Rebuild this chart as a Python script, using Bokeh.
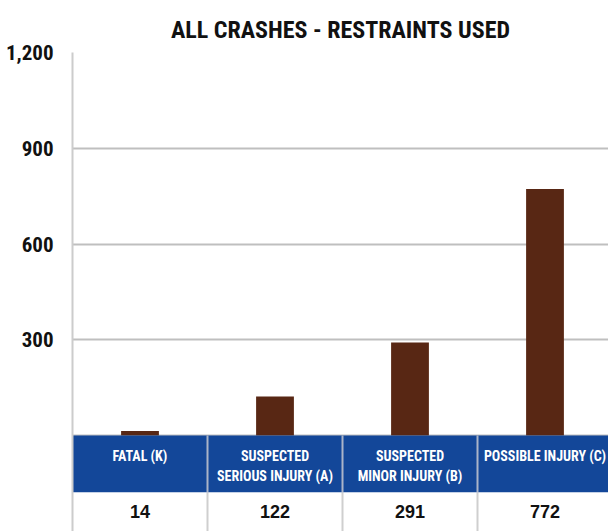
from bokeh.plotting import figure
from bokeh.models import Range1d, FixedTicker, ColumnDataSource
from bokeh.core.properties import value
from bokeh.embed import file_html
from bokeh.resources import INLINE
import numpy as np

# ---- data ----
title_text = "ALL CRASHES - RESTRAINTS USED"
categories = ["FATAL (K)", "SUSPECTED\nSERIOUS INJURY (A)", "SUSPECTED\nMINOR INJURY (B)", "POSSIBLE INJURY (C)"]
counts = [14, 122, 291, 772]
y_ticks = [0, 300, 600, 900, 1200]
y_tick_labels = {0: "", 300: "300", 600: "600", 900: "900", 1200: "1,200"}

# ---- style constants ----
BAR_COLOR = "#582714"
HEAD_BLUE = "#134799"
GRID = "#bfbfbf"
NARROW = "'Roboto Condensed', 'DejaVu Sans Condensed', Roboto, sans-serif"

W, H = 608, 531
TOP, LEFT = 52, 72
PX_ZERO_TO_TOP = 383.0
UPP = 1200.0 / PX_ZERO_TO_TOP          # data units per pixel
HEAD_PX, TABLE_PX = 57, 96
y_bottom = -TABLE_PX * UPP
y_head = -HEAD_PX * UPP
COL_PX = 135.0
n = len(categories)
x_end = (W - LEFT) / COL_PX

p = figure(width=W, height=H, output_backend="svg", toolbar_location=None,
           x_range=Range1d(0, x_end), y_range=Range1d(y_bottom, 1200),
           min_border_left=LEFT, min_border_right=0, min_border_top=TOP,
           min_border_bottom=0, background_fill_color="white",
           border_fill_color="white", outline_line_color=None)

p.title.text = title_text
p.title.align = "center"
p.title.text_font = NARROW
p.title.text_font_size = "24px"
p.title.text_font_style = "bold"
p.title.text_color = "#111111"
p.title.standoff = 17

p.xaxis.visible = False
p.xgrid.visible = False

yax = p.yaxis[0]
yax.ticker = FixedTicker(ticks=y_ticks)
yax.major_label_overrides = y_tick_labels
yax.major_tick_line_color = None
yax.minor_tick_line_color = None
yax.major_tick_out = 0
yax.major_tick_in = 0
yax.axis_line_color = "#cccccc"
yax.axis_line_width = 2
yax.major_label_standoff = 19
yax.major_label_text_font = NARROW
yax.major_label_text_font_style = "bold"
yax.major_label_text_font_size = "21px"
yax.major_label_text_color = "#111111"

p.ygrid.ticker = FixedTicker(ticks=y_ticks)
p.ygrid.grid_line_color = GRID
p.ygrid.grid_line_width = 2

xc = np.arange(n) + 0.5
line1 = [c.split("\n")[0] for c in categories]
line2 = [c.split("\n")[1] if "\n" in c else "" for c in categories]

src = ColumnDataSource(dict(x=xc, counts=counts, l1=line1, l2=line2,
                            vals=[f"{v:,}" for v in counts]))

# bars
p.vbar(x="x", top="counts", bottom=0, width=0.28, source=src,
       fill_color=BAR_COLOR, line_color=None)

# table header cells
p.rect(x="x", y=y_head / 2, width=1, height=-y_head, source=src,
       fill_color=HEAD_BLUE, line_color=None)
# value row (white)
p.rect(x="x", y=(y_head + y_bottom) / 2, width=1, height=y_head - y_bottom,
       source=src, fill_color="white", line_color=None)

# separators
seps = np.arange(1, n)
p.segment(x0=seps, x1=seps, y0=[y_head] * len(seps), y1=[0] * len(seps),
          line_color="#aab4c8", line_width=2)
p.segment(x0=seps, x1=seps, y0=[y_bottom] * len(seps), y1=[y_head] * len(seps),
          line_color="#cfcfcf", line_width=2)

# header texts
for col, off in (("l1", 20), ("l2", 40)):
    p.text(x="x", y=0, text=col, source=src, y_offset=off,
           text_align="center", text_baseline="middle",
           text_font=value(NARROW), text_font_style="bold",
           text_font_size="14px", text_color="white")

# values
p.text(x="x", y=0, text="vals", source=src, y_offset=76,
       text_align="center", text_baseline="middle",
       text_font=value("Liberation Sans"), text_font_style="bold",
       text_font_size="18px", text_color="#111111")

open("out.html", "w").write(file_html(p, INLINE))
